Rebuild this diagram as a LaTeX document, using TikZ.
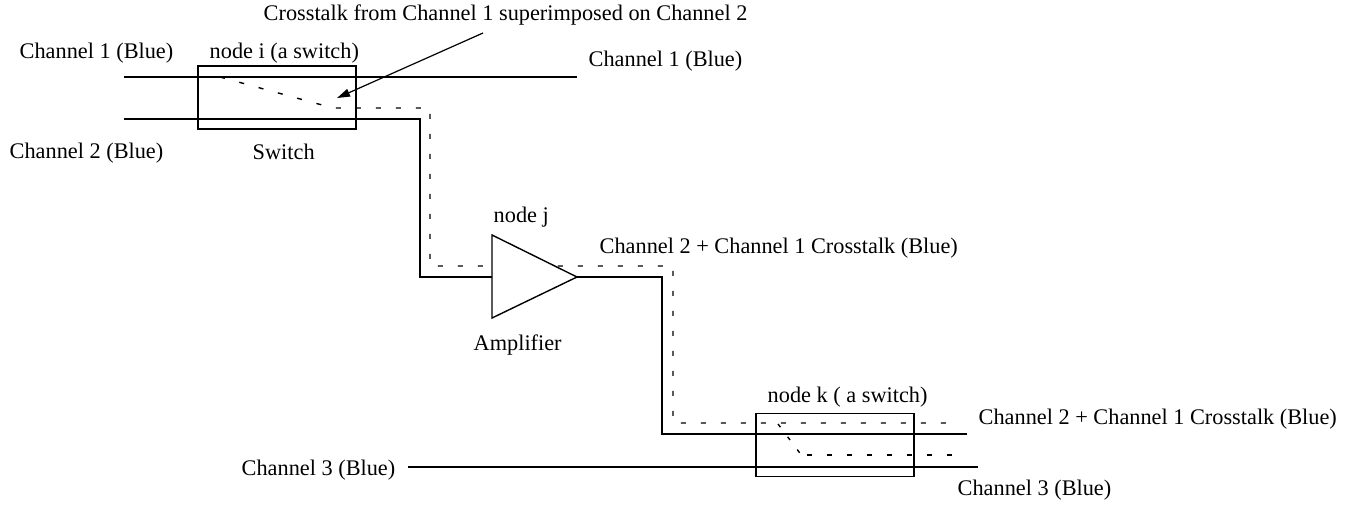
\documentclass[tikz,border=0pt]{standalone}
\usepackage{fontspec}
\setmainfont{Liberation Serif}
\usetikzlibrary{arrows.meta}
\begin{document}
\begin{tikzpicture}[x=1pt,y=-1pt,
  line width=1.4pt,
  lbl/.style={anchor=base west,inner sep=0pt,font=\fontsize{22.3}{26}\selectfont},
  swbox/.style={draw,line width=1.4pt,minimum width=158pt,minimum height=63pt,inner sep=0pt},
  wire/.style={line width=1.4pt},
  xtalk/.style={line width=1.4pt,dash pattern=on 5pt off 15pt},
  pointer/.style={line width=1.2pt,-{Triangle[length=13pt,width=8pt]}}]
\useasboundingbox (0,0) rectangle (1349,504);

% labels
\node[lbl] (tcross) at (263,20) {Crosstalk from Channel 1 superimposed on Channel 2};
\node[lbl] (tch1a) at (19,58) {Channel 1 (Blue)};
\node[lbl] (tnodei) at (209,58) {node i (a switch)};
\node[lbl] (tch1b) at (588,66) {Channel 1 (Blue)};
\node[lbl] (tch2a) at (9,158) {Channel 2 (Blue)};
\node[lbl] (tswitch) at (252,159) {Switch};
\node[lbl] (tnodej) at (493,222) {node j};
\node[lbl] (tmix1) at (599,253) {Channel 2 + Channel 1 Crosstalk (Blue)};
\node[lbl] (tamp) at (473,350) {Amplifier};
\node[lbl] (tnodek) at (767,402) {node k ( a switch)};
\node[lbl] (tmix2) at (978,424) {Channel 2 + Channel 1 Crosstalk (Blue)};
\node[lbl] (tch3a) at (241,475) {Channel 3 (Blue)};
\node[lbl] (tch3b) at (957,495) {Channel 3 (Blue)};

% wire end points and corners
\coordinate (c1in) at (124,77);
\coordinate (c1out) at (577,77);
\coordinate (c2in) at (124,119);
\coordinate (c2r) at (420,119);
\coordinate (c2d) at (420,277);
\coordinate (ampin) at (492,277);
\coordinate (amptop) at (492,235);
\coordinate (ampbot) at (492,318);
\coordinate (ampout) at (577,277);
\coordinate (o1) at (662,277);
\coordinate (o2) at (662,434);
\coordinate (o3) at (967,434);
\coordinate (c3in) at (408,467);
\coordinate (c3out) at (978,467);

% crosstalk route
\coordinate (x0) at (220,77);
\coordinate (x1) at (333,108);
\coordinate (x2) at (430,108);
\coordinate (x3) at (430,266);
\coordinate (x4) at (673,266);
\coordinate (x5) at (673,423);
\coordinate (x6) at (953,423);
\coordinate (y0) at (778,424);
\coordinate (y1) at (805,460);
\coordinate (y2) at (807,455);
\coordinate (y3) at (962,455);

% arrow end points
\coordinate (pstart) at (483,33);
\coordinate (ptip) at (337,98);

% solid channels
\draw[wire] (c1in) -- (c1out);
\draw[wire] (c2in) -- (c2r) -- (c2d) -- (ampin);
\draw[wire] (ampout) -- (o1) -- (o2) -- (o3);
\draw[wire] (c3in) -- (c3out);

% crosstalk (dashed)
\draw[xtalk] (x0) -- (x1) -- (x2) -- (x3) -- (x4) -- (x5) -- (x6);
\draw[xtalk,dash pattern=on 4pt off 12pt] (y0) -- (y1);
\draw[xtalk] (y2) -- (y3);

% switches
\node[swbox] (swi) at (277,97.5) {};
\node[swbox] (swk) at (835,445) {};

% amplifier
\draw[wire,fill=white] (amptop) -- (ampout) -- (ampbot) -- cycle;

% pointer to the crosstalk
\draw[pointer] (pstart) -- (ptip);
\end{tikzpicture}
\end{document}
